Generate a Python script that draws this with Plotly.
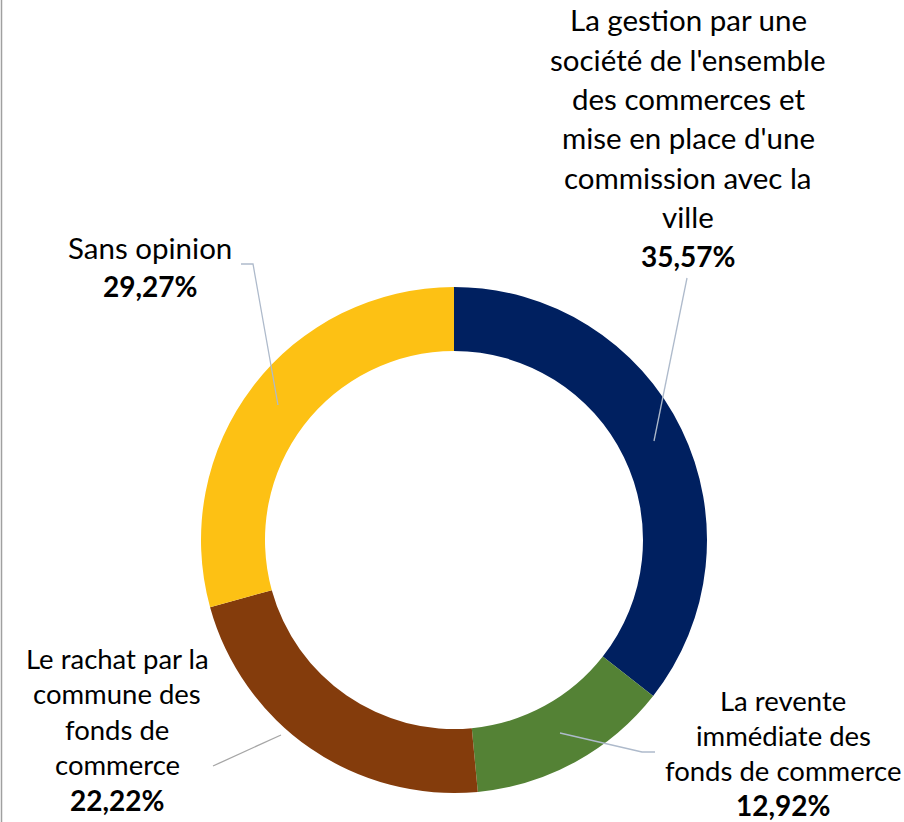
import plotly.graph_objects as go

# slice data, clockwise from 12 o'clock
labels = [
    "La gestion par une\nsociété de l'ensemble\ndes commerces et\nmise en place d'une\ncommission avec la\nville",
    "La revente\nimmédiate des\nfonds de commerce",
    "Le rachat par la\ncommune des\nfonds de\ncommerce",
    "Sans opinion",
]
values = [35.57, 12.92, 22.22, 29.27]
pct_text = ["35,57%", "12,92%", "22,22%", "29,27%"]
colors = ["#002060", "#548235", "#843C0C", "#FDC114"]

W, H = 904, 822
CX, CY, R_OUT, R_IN = 454, 540, 253, 189


def px(x):
    return x / W


def py(y):
    return 1 - y / H


fig = go.Figure(go.Pie(
    labels=[l.split("\n")[0] for l in labels],
    values=values,
    marker=dict(colors=colors, line=dict(width=0)),
    hole=R_IN / R_OUT,
    sort=False,
    direction="clockwise",
    rotation=0,
    textinfo="none",
    hoverinfo="label+percent",
    domain=dict(x=[px(CX - R_OUT), px(CX + R_OUT)], y=[py(CY + R_OUT), py(CY - R_OUT)]),
))

# label blocks: centre x, first line centre y, line spacing, font size (pixels)
label_pos = [(688, 20, 39.3, 29.5), (783, 700, 35.3, 27.5), (117, 658, 35.5, 27.5), (150, 247, 39, 29.5)]

annotations = []
for lab, pct, (lx, ly, step, fs) in zip(labels, pct_text, label_pos):
    lines = lab.split("\n")
    for i, line in enumerate(lines):
        annotations.append(dict(
            x=px(lx), y=py(ly + i * step), xref="paper", yref="paper",
            text=line, showarrow=False, xanchor="center", yanchor="middle",
            font=dict(size=fs, color="#000000", family="Lato, Carlito, sans-serif"),
        ))
    annotations.append(dict(
        x=px(lx), y=py(min(ly + len(lines) * step, 805)), xref="paper", yref="paper",
        text="<b>" + pct + "</b>", showarrow=False, xanchor="center", yanchor="middle",
        font=dict(size=28, color="#000000", family="Lato, Carlito, sans-serif"),
    ))

# leader lines (pixel paths)
leaders = [
    ([(687, 278), (654, 441)], "#AEBACB"),
    ([(655, 752), (642, 752), (560, 733)], "#AEBACB"),
    ([(213, 766), (281, 735)], "#A6A6A6"),
    ([(241, 264), (253, 264), (278, 405)], "#AEBACB"),
]
shapes = []
for pts, col in leaders:
    path = "M " + " L ".join(f"{px(x):.5f},{py(y):.5f}" for x, y in pts)
    shapes.append(dict(type="path", path=path, xref="paper", yref="paper",
                       line=dict(color=col, width=1.3), layer="above"))

# left border of the chart frame
shapes.append(dict(type="line", x0=px(1.5), x1=px(1.5), y0=0, y1=1, xref="paper", yref="paper",
                   line=dict(color="#A0A0A0", width=1.5)))

fig.update_layout(
    width=W, height=H,
    margin=dict(l=0, r=0, t=0, b=0),
    showlegend=False,
    paper_bgcolor="white",
    plot_bgcolor="white",
    annotations=annotations,
    shapes=shapes,
)

fig.write_html("out.html", config={"displayModeBar": False},
               post_script="document.body.style.margin='0';")
